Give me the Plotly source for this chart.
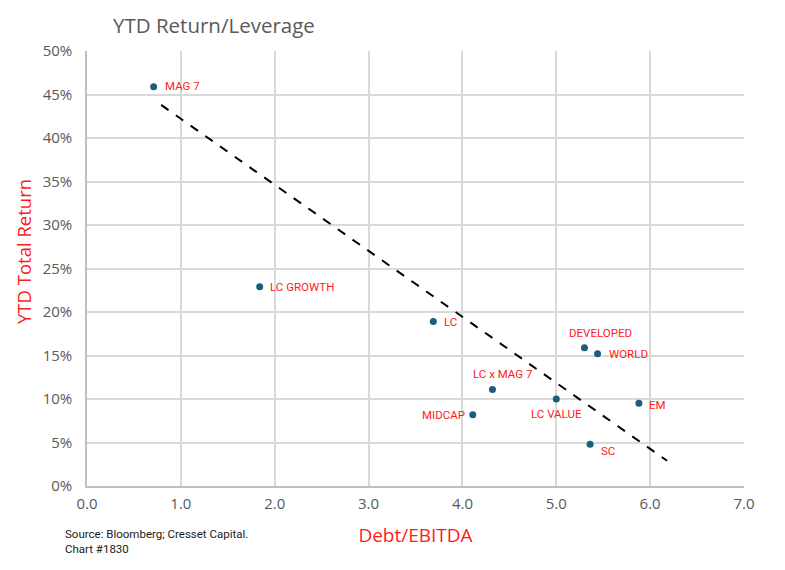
import plotly.graph_objects as go

names = ["MAG 7", "LC GROWTH", "LC", "DEVELOPED", "WORLD", "LC x MAG 7",
         "LC VALUE", "EM", "MIDCAP", "SC"]
debt_ebitda = [0.71, 1.84, 3.69, 5.30, 5.44, 4.32, 5.00, 5.88, 4.11, 5.36]
ytd_return = [45.9, 22.9, 18.9, 15.9, 15.2, 11.1, 10.0, 9.5, 8.2, 4.8]

trend_x = [0.79, 6.18]
trend_y = [43.8, 2.9]

x_ticks = [0, 1, 2, 3, 4, 5, 6, 7]
y_ticks = [0, 5, 10, 15, 20, 25, 30, 35, 40, 45, 50]

# label placement styling: (xanchor, xshift, yshift)
label_style = [("left", 9, 1), ("left", 8, 0), ("left", 9, 0),
               ("center", 16, 15), ("left", 9, 0), ("center", 10, 15),
               ("center", 0, -15), ("left", 8, -2), ("right", -6, 0),
               ("left", 9, -7)]

fig = go.Figure()
fig.add_trace(go.Scatter(
    x=trend_x, y=trend_y, mode="lines",
    line=dict(color="black", width=2, dash="dash"),
    hoverinfo="skip", showlegend=False))
fig.add_trace(go.Scatter(
    x=debt_ebitda, y=ytd_return, mode="markers",
    marker=dict(color="#1b5e7b", size=7),
    text=names, showlegend=False))

annotations = []
for name, xv, yv, (xa, xs, ys) in zip(names, debt_ebitda, ytd_return, label_style):
    annotations.append(dict(
        text=name, x=xv, y=yv, xref="x", yref="y", showarrow=False,
        xanchor=xa, yanchor="middle", xshift=xs, yshift=ys,
        font=dict(family="Roboto", size=11.5, color="#ff1a1a")))

annotations += [
    dict(text="YTD Total Return", textangle=-90, xref="paper", yref="paper",
         x=-64/657, y=(486-252)/435, xanchor="center", yanchor="middle",
         showarrow=False,
         font=dict(family="Open Sans", size=18.5, color="#ff1a1a")),
    dict(text="Source: Bloomberg; Cresset Capital.<br>Chart #1830",
         xref="paper", yref="paper", x=(63-87)/657, y=-(525-486)/435,
         xanchor="left", yanchor="top", align="left", showarrow=False,
         font=dict(family="Roboto", size=11.5, color="#1a1a1a")),
]

# page body has an 8px default margin, so the figure is sized to fit the window
fig.update_layout(
    width=777, height=562,
    margin=dict(l=79, r=41, t=43, b=84),
    paper_bgcolor="white", plot_bgcolor="white",
    title=dict(text="YTD Return/Leverage", x=105/777, xanchor="left",
               y=1 - 18/562, yanchor="middle",
               font=dict(family="Open Sans", size=20.5, color="#595959")),
    xaxis=dict(range=[0, 7], tickvals=x_ticks,
               ticktext=[f"{v:.1f}" for v in x_ticks],
               showgrid=True, gridcolor="#d9d9d9", gridwidth=1.5,
               showline=True, linecolor="#bfbfbf", linewidth=1.5,
               zeroline=False, automargin=False, ticklabelstandoff=3,
               tickfont=dict(family="Open Sans", size=15, color="#595959"),
               title=dict(text="Debt/EBITDA", standoff=17,
                          font=dict(family="Open Sans", size=19, color="#ff1a1a"))),
    yaxis=dict(range=[0, 50], tickvals=y_ticks,
               ticktext=[f"{v}%" for v in y_ticks],
               showgrid=True, gridcolor="#d9d9d9", gridwidth=1.5,
               showline=True, linecolor="#bfbfbf", linewidth=1.5,
               zeroline=False, automargin=False, ticklabelstandoff=10,
               tickfont=dict(family="Open Sans", size=15, color="#595959")),
    annotations=annotations,
)

fig.write_html("out.html")
